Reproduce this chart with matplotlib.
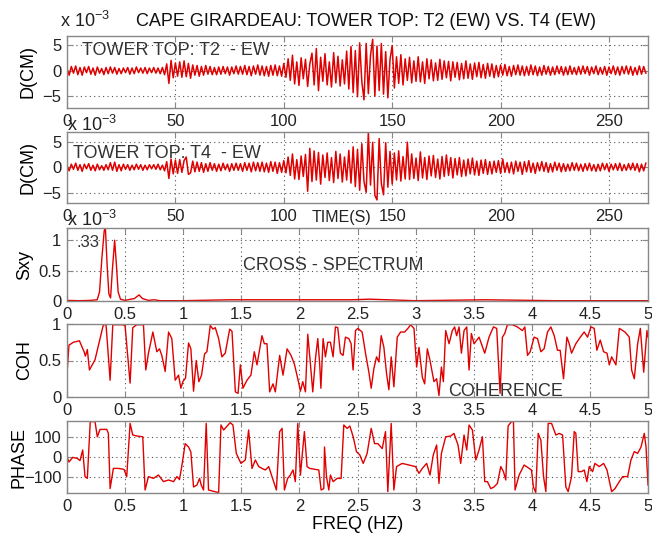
import matplotlib
matplotlib.use('Agg')
import matplotlib.pyplot as plt
import numpy as np

plt.rcParams['font.family'] = ['Liberation Sans', 'DejaVu Sans']
plt.rcParams['mathtext.fontset'] = 'custom'
plt.rcParams['mathtext.rm'] = 'Liberation Sans'

W, H = 652, 535
RED = '#e00000'
TXT = '#333333'

# displacement records, units of 1e-3 cm, one value per second
t2_disp = [
    0.4, -0.9, 0.8, -0.5, 0.9, -0.8, 0.6, -0.9, 0.7, -0.4,
    0.8, -0.7, 0.5, -0.9, 0.7, -0.5, 0.4, -0.8, 0.6, -0.6,
    0.7, -0.5, 0.6, -0.7, 0.4, -0.6, 0.5, -0.4, 0.6, -0.7,
    0.5, -0.6, 0.7, -0.4, 0.5, -0.5, 0.6, -0.6, 0.5, -0.4,
    0.6, -0.5, 0.5, -0.6, 0.6, -0.8, 1.3, -2.5, 2.0, -1.4,
    1.5, -1.1, 1.7, -1.3, 1.9, -1.2, 1.4, -1.5, 1.1, -0.9,
    1.0, -1.1, 0.8, -0.9, 1.0, -0.7, 0.8, -0.8, 0.6, -0.8,
    0.7, -0.7, 0.8, -0.6, 0.7, -0.9, 0.7, -0.6, 0.9, -0.7,
    0.8, -0.7, 1.0, -0.8, 0.8, -1.0, 0.9, -0.7, 1.1, -0.9,
    0.9, -1.0, 0.8, -1.1, 1.0, -0.9, 1.1, -1.0, 0.9, -1.1,
    1.4, -1.3, 2.3, -1.9, 3.0, -2.6, 1.7, -2.9, 2.5, -1.6,
    2.2, -3.1, 1.3, 3.4, -2.8, 4.3, -3.9, 2.6, -2.1, 3.3,
    -2.8, 1.7, -3.2, 3.5, -2.4, 2.8, -3.0, 2.1, -2.6, 3.8,
    -3.6, 4.7, -4.3, 3.9, -5.1, 5.4, -2.2, -5.7, 5.3, -4.5,
    3.0, 6.1, -5.0, 4.8, -3.9, 5.3, -4.6, 3.7, -5.3, 2.2,
    4.9, -3.4, 2.7, -2.5, 3.1, -2.8, 2.3, -1.9, 2.6, -2.4,
    1.9, -2.1, 2.7, -2.2, 1.7, -2.5, 2.3, -1.6, 2.1, -2.0,
    1.5, -1.9, 2.2, -1.7, 1.9, -1.4, 1.8, -2.0, 1.7, -1.3,
    1.6, -1.8, 1.4, -1.6, 1.9, -1.5, 1.3, -1.7, 1.5, -1.2,
    1.6, -1.4, 1.2, -1.5, 1.4, -1.1, 1.3, -1.4, 1.0, -1.2,
    1.1, -0.9, 1.2, -1.0, 0.8, -1.1, 1.0, -0.8, 1.1, -0.9,
    0.9, -1.0, 0.8, -0.9, 1.1, -0.8, 0.9, -1.0, 0.7, -0.9,
    1.0, -0.7, 0.8, -0.9, 0.7, -0.8, 0.9, -0.6, 0.8, -0.9,
    0.7, -0.8, 0.9, -0.7, 0.6, -0.8, 0.8, -0.7, 0.9, -0.6,
    0.8, -0.9, 0.7, -0.6, 0.9, -0.8, 0.6, -0.7, 0.8, -0.9,
    0.7, -0.6, 0.9, -0.8, 0.7, -0.9, 0.8, -0.6, 0.9, -0.7,
    0.8, -0.9, 0.6, -0.8, 0.9, -0.7, 0.8, -0.5,
]
t4_disp = [
    0.3, -0.7, 0.6, -0.4, 0.8, -0.6, 0.5, -0.8, 0.6, -0.3,
    0.7, -0.6, 0.4, -0.7, 0.6, -0.5, 0.3, -0.6, 0.5, -0.5,
    0.9, -0.6, 1.0, -0.8, 0.5, -0.7, 0.6, -0.4, 0.5, -0.6,
    0.4, -0.5, 0.6, -0.4, 0.5, -0.6, 0.4, -0.5, 0.5, -0.3,
    0.5, -0.4, 0.6, -0.5, 0.4, -0.7, 1.1, -2.2, 1.6, -1.3,
    1.4, -1.2, 1.5, -1.0, 1.3, 2.0, -1.4, -1.1, 1.2, -0.9,
    1.0, -0.8, 0.9, -1.0, 0.7, -0.8, 0.9, -0.6, 0.7, -0.8,
    0.6, -0.7, 0.8, -0.5, 0.6, -0.8, 0.7, -0.6, 0.8, -0.6,
    0.7, -0.8, 0.9, -0.6, 0.8, -0.9, 1.0, -0.7, 0.9, -0.8,
    1.0, -0.9, 0.8, -1.0, 1.1, -0.8, 1.0, -1.2, 0.9, -1.0,
    1.3, -1.1, 2.0, -1.6, 2.6, -2.3, 1.5, -2.4, 2.2, -1.8,
    2.5, -4.7, 3.7, -2.8, 3.2, -2.5, 2.9, -3.3, 2.4, -2.0,
    2.8, -2.6, 1.9, -3.0, 3.1, -2.2, 2.6, -2.9, 2.0, -2.5,
    3.3, -3.1, 4.0, -3.8, 3.5, -4.5, 4.6, -2.8, -4.9, 6.8,
    -3.5, 4.9, -5.5, -6.4, 5.6, -3.2, -5.4, 4.8, -3.9, 3.1,
    -3.3, 2.8, -2.5, 3.2, -2.7, 2.1, -2.3, 4.9, -2.4, 2.6,
    -2.2, 1.8, -2.6, 3.0, -2.1, 1.9, -2.4, 2.2, -1.7, 2.3,
    -2.0, 1.6, -2.3, 2.1, -1.8, 2.4, -1.6, 1.9, -2.1, 1.7,
    -1.5, 1.9, -1.8, 1.4, -1.7, 1.6, -1.3, 1.8, -1.5, 1.2,
    -1.6, 1.4, -1.2, 1.5, -1.4, 1.1, -1.3, 1.2, -1.0, 1.3,
    -1.2, 1.6, -1.0, 0.9, -1.1, 1.0, -1.3, 1.2, -0.8, 1.0,
    -1.4, 1.1, -0.9, 1.3, -1.0, 0.8, -1.2, 0.9, -0.7, 1.1,
    -0.8, 0.9, -1.0, 0.7, -0.9, 1.0, -0.6, 0.8, -0.9, 0.7,
    -0.8, 0.6, -0.7, 0.9, -0.6, 0.8, -0.7, 0.6, -0.8, 0.7,
    -0.6, 0.8, -0.7, 0.5, -0.8, 0.6, -0.7, 0.8, -0.5, 0.7,
    -0.8, 0.6, -0.5, 0.7, -0.6, 0.8, -0.7, 0.5, -0.6, 0.7,
    -0.5, 0.8, -0.6, 0.7, -0.9, 0.6, -0.7, 0.8,
]

# cross spectrum (x 1e-3)
sxy_freq = [0, 0.1, 0.2, 0.26, 0.28, 0.30, 0.32, 0.33, 0.345, 0.36, 0.375,
            0.39, 0.41, 0.425, 0.44, 0.46, 0.5, 0.55, 0.58, 0.62, 0.65, 0.7,
            0.75, 0.8, 1.0, 1.4, 1.9, 2.45, 2.6, 3.0, 3.6, 4.2, 5.0]
sxy_vals = [0.01, 0.005, 0.01, 0.02, 0.15, 0.7, 1.15, 1.22, 0.6, 0.12, 0.05,
            0.5, 1.0, 0.6, 0.15, 0.03, 0.01, 0.03, 0.04, 0.1, 0.04, 0.01,
            0.02, 0.005, 0.005, 0.02, 0.02, 0.02, 0.03, 0.005, 0.02, 0.005, 0.005]

coh_freq = [0, 0.017, 0.055, 0.107, 0.147, 0.158, 0.175, 0.193, 0.241, 0.284,
            0.313, 0.336, 0.371, 0.394, 0.414, 0.486, 0.5, 0.543, 0.566, 0.6,
            0.658, 0.678, 0.701, 0.739, 0.773, 0.796, 0.816, 0.845, 0.874, 0.902,
            0.931, 0.96, 0.98, 0.997, 1.02, 1.046, 1.066, 1.089, 1.112, 1.135,
            1.158, 1.184, 1.204, 1.233, 1.256, 1.276, 1.305, 1.333, 1.362, 1.4,
            1.42, 1.449, 1.472, 1.492, 1.514, 1.549, 1.583, 1.612, 1.635, 1.678,
            1.698, 1.721, 1.744, 1.773, 1.793, 1.83, 1.859, 1.894, 1.928, 1.957,
            1.989, 2.009, 2.029, 2.052, 2.072, 2.095, 2.115, 2.138, 2.158, 2.175,
            2.185, 2.204, 2.224, 2.244, 2.267, 2.29, 2.31, 2.33, 2.353, 2.376,
            2.396, 2.425, 2.445, 2.462, 2.483, 2.503, 2.54, 2.569, 2.598, 2.618,
            2.641, 2.664, 2.684, 2.704, 2.727, 2.75, 2.77, 2.79, 2.813, 2.842,
            2.871, 2.905, 2.934, 2.957, 2.986, 3.009, 3.029, 3.058, 3.078, 3.101,
            3.124, 3.158, 3.181, 3.201, 3.222, 3.239, 3.259, 3.288, 3.316, 3.336,
            3.353, 3.374, 3.394, 3.417, 3.44, 3.46, 3.48, 3.503, 3.546, 3.595,
            3.632, 3.67, 3.698, 3.727, 3.747, 3.767, 3.79, 3.833, 3.876, 3.919,
            3.94, 3.963, 3.986, 4.02, 4.049, 4.078, 4.106, 4.135, 4.164, 4.193,
            4.221, 4.244, 4.273, 4.302, 4.322, 4.342, 4.379, 4.417, 4.451, 4.48,
            4.509, 4.537, 4.56, 4.589, 4.618, 4.647, 4.667, 4.687, 4.724, 4.753,
            4.802, 4.839, 4.859, 4.882, 4.911, 4.934, 4.963, 4.991, 5.0]
coh_vals = [0.32, 0.71, 0.75, 0.77, 0.62, 0.56, 0.65, 0.37, 0.51, 0.80,
            0.99, 0.99, 0.23, 0.99, 0.99, 0.99, 0.97, 0.19, 0.95, 0.99,
            0.99, 0.37, 0.60, 0.89, 0.62, 0.66, 0.57, 0.35, 0.89, 0.80,
            0.23, 0.30, 0.12, 0.21, 0.26, 0.74, 0.66, 0.08, 0.50, 0.21,
            0.30, 0.59, 0.62, 0.98, 0.93, 0.95, 0.80, 0.55, 0.60, 0.93,
            0.90, 0.07, 0.05, 0.44, 0.12, 0.23, 0.30, 0.62, 0.44, 0.84,
            0.73, 0.73, 0.07, 0.18, 0.07, 0.57, 0.30, 0.66, 0.57, 0.45,
            0.23, 0.08, 0.21, 0.07, 0.86, 0.45, 0.07, 0.52, 0.80, 0.44,
            0.12, 0.80, 0.55, 0.75, 0.75, 0.55, 0.96, 0.95, 0.60, 0.57,
            0.82, 0.80, 0.73, 0.37, 0.91, 0.94, 0.89, 0.60, 0.34, 0.12,
            0.39, 0.55, 0.48, 0.84, 0.68, 0.32, 0.10, 0.55, 0.14, 0.82,
            0.89, 0.89, 0.94, 0.99, 0.94, 0.41, 0.68, 0.27, 0.18, 0.66,
            0.50, 0.21, 0.25, 0.02, 0.41, 0.21, 0.91, 0.73, 0.91, 0.96,
            0.84, 0.96, 0.60, 0.91, 0.96, 0.37, 0.87, 0.73, 0.82, 0.60,
            0.82, 0.96, 0.94, 0.05, 0.82, 0.87, 0.99, 0.99, 0.96, 0.91,
            0.96, 0.57, 0.62, 0.82, 0.80, 0.62, 0.66, 0.89, 0.96, 0.84,
            0.64, 0.64, 0.25, 0.82, 0.73, 0.60, 0.73, 0.82, 0.89, 0.82,
            0.96, 0.94, 0.64, 0.78, 0.62, 0.60, 0.44, 0.55, 0.44, 0.94,
            0.89, 0.82, 0.37, 0.25, 0.73, 0.94, 0.34, 0.91, 0.82]

phase_freq = [0, 0.017, 0.049, 0.089, 0.112, 0.135, 0.155, 0.175, 0.2, 0.241,
              0.261, 0.284, 0.342, 0.356, 0.371, 0.399, 0.443, 0.491, 0.514, 0.543,
              0.566, 0.601, 0.652, 0.672, 0.701, 0.744, 0.787, 0.83, 0.874, 0.917,
              0.946, 0.968, 0.989, 1.017, 1.046, 1.066, 1.089, 1.118, 1.141, 1.155,
              1.175, 1.198, 1.218, 1.305, 1.325, 1.348, 1.405, 1.428, 1.457, 1.497,
              1.534, 1.563, 1.592, 1.621, 1.65, 1.678, 1.707, 1.736, 1.764, 1.802,
              1.83, 1.851, 1.871, 1.899, 1.922, 1.945, 1.965, 1.986, 2.009, 2.023,
              2.043, 2.066, 2.089, 2.138, 2.167, 2.187, 2.21, 2.216, 2.233, 2.253,
              2.267, 2.29, 2.325, 2.359, 2.382, 2.411, 2.434, 2.463, 2.491, 2.52,
              2.549, 2.583, 2.618, 2.647, 2.675, 2.713, 2.741, 2.761, 2.79, 2.813,
              2.836, 2.885, 2.943, 3.0, 3.029, 3.058, 3.095, 3.124, 3.152, 3.181,
              3.201, 3.222, 3.259, 3.302, 3.33, 3.365, 3.388, 3.417, 3.44, 3.46,
              3.489, 3.518, 3.546, 3.575, 3.595, 3.618, 3.647, 3.675, 3.704, 3.733,
              3.756, 3.776, 3.796, 3.825, 3.842, 3.856, 3.891, 3.934, 3.977, 3.997,
              4.014, 4.034, 4.055, 4.078, 4.101, 4.121, 4.141, 4.17, 4.207, 4.236,
              4.265, 4.293, 4.313, 4.342, 4.365, 4.379, 4.399, 4.428, 4.451, 4.474,
              4.494, 4.523, 4.543, 4.58, 4.618, 4.647, 4.687, 4.716, 4.753, 4.782,
              4.825, 4.853, 4.882, 4.911, 4.94, 4.968, 4.983, 5.0]
phase_vals = [0, -25, -2, -7, -18, 35, -98, -107, 177, 177,
              101, 138, 138, 118, -158, -57, -57, -62, -98, 168,
              110, 105, 101, -165, -98, -107, -90, -123, -115, -123,
              -98, -113, -42, 67, 50, 25, -150, -140, -107, -140,
              -165, 168, -165, -178, 160, 135, 172, 160, 18, -32,
              -15, 135, -57, -15, -48, -57, -65, -48, -98, -165,
              127, 143, -165, -107, -90, -65, -123, 168, -90, 2,
              127, -48, -57, -62, -65, -165, -158, 50, -98, -165,
              -90, -123, -107, -107, 160, 143, 155, 101, 27, 10,
              -32, 18, 143, 67, 67, 42, 127, -173, 168, -165,
              -48, -32, -40, -48, -82, -57, -32, -90, 10, 60,
              -132, 18, 101, 105, 118, 60, -32, 110, 35, 160,
              135, -15, 35, 101, -123, -123, -158, -150, -132, -48,
              -73, -115, 155, 177, 177, -165, -90, -40, -57, -65,
              -150, -178, 118, 84, -98, -173, 168, 168, 110, 118,
              110, -150, -173, -98, 127, 118, -73, -73, -65, -123,
              -48, -73, -32, -48, -32, -65, -173, -158, -123, -98,
              -98, -15, 27, 18, 50, 118, 50, -140]


def rect(x0, y0, x1, y1):
    return [x0 / W, 1 - y1 / H, (x1 - x0) / W, (y1 - y0) / H]


def style(ax):
    for s in ax.spines.values():
        s.set_color('#888888')
        s.set_linewidth(1.0)
    ax.tick_params(direction='in', top=True, right=True, length=4,
                   color='#888888', labelsize=12, pad=4, labelcolor='#222222')
    ax.grid(True, linestyle=(0, (1, 3)), color='#555555', linewidth=0.8)


fig = plt.figure(figsize=(6.52, 5.35), dpi=100)

ax1 = fig.add_axes(rect(67, 36, 648, 108))
ax2 = fig.add_axes(rect(67, 132, 648, 203))
ax3 = fig.add_axes(rect(67, 228, 648, 301))
ax4 = fig.add_axes(rect(67, 324, 648, 397))
ax5 = fig.add_axes(rect(67, 421, 648, 493))

t = np.arange(len(t2_disp))
ax1.plot(t, t2_disp, color=RED, lw=1.1)
ax2.plot(t, t4_disp, color=RED, lw=1.1)
for ax in (ax1, ax2):
    ax.set_xlim(0, 268)
    ax.set_xticks([0, 50, 100, 150, 200, 250])
    ax.set_yticks([-5, 0, 5])
    ax.set_ylabel('D(CM)', fontsize=13)
ax1.set_ylim(-7.3, 6.75)
ax2.set_ylim(-7.0, 6.9)

ax3.plot(sxy_freq, sxy_vals, color=RED, lw=1.0)
ax3.set_ylim(0, 1.2)
ax3.set_yticks([0, 0.5, 1])
ax3.set_yticklabels(['0', '0.5', '1'])
ax3.set_ylabel('Sxy', fontsize=13)

ax4.plot(coh_freq, coh_vals, color=RED, lw=1.0)
ax4.set_ylim(0, 1)
ax4.set_yticks([0, 0.5, 1])
ax4.set_yticklabels(['0', '0.5', '1'])
ax4.set_ylabel('COH', fontsize=13)

ax5.plot(phase_freq, phase_vals, color=RED, lw=1.0)
ax5.set_ylim(-180, 180)
ax5.set_yticks([-100, 0, 100])
ax5.set_ylabel('PHASE', fontsize=13)
ax5.set_xlabel('FREQ (HZ)', fontsize=13, labelpad=2)

flabels = ['0', '0.5', '1', '1.5', '2', '2.5', '3', '3.5', '4', '4.5', '5']
for ax in (ax3, ax4, ax5):
    ax.set_xlim(0, 5)
    ax.set_xticks(np.arange(0, 5.01, 0.5))
    ax.set_xticklabels(flabels)

for ax in (ax1, ax2, ax3, ax4, ax5):
    style(ax)
ax1.yaxis.set_label_coords(-0.052, 0.5)
ax2.yaxis.set_label_coords(-0.052, 0.5)
ax3.yaxis.set_label_coords(-0.058, 0.5)
ax4.yaxis.set_label_coords(-0.058, 0.5)
ax5.yaxis.set_label_coords(-0.068, 0.5)


def ftext(x, y, s, **kw):
    fig.text(x / W, 1 - y / H, s, va='baseline', **kw)


ftext(136, 26, 'CAPE GIRARDEAU: TOWER TOP: T2 (EW) VS. T4 (EW)', fontsize=13, color='#111111')
ftext(60, 27, r'x 10$^{-3}$', fontsize=13, color='#222222')
ftext(67, 131, r'x 10$^{-3}$', fontsize=13, color='#222222')
ftext(67, 226, r'x 10$^{-3}$', fontsize=13, color='#222222')

ftext(82, 55, 'TOWER TOP: T2  - EW', fontsize=13, color=TXT)
ftext(73, 158, 'TOWER TOP: T4  - EW', fontsize=13, color=TXT)
ftext(312, 222, 'TIME(S)', fontsize=11.5, color='#222222')
ftext(243, 270, 'CROSS - SPECTRUM', fontsize=13, color=TXT)
ftext(77, 247, '.33', fontsize=12, color=TXT)
ftext(448, 396, 'COHERENCE', fontsize=13, color=TXT)

fig.savefig('out.png', dpi=100)
